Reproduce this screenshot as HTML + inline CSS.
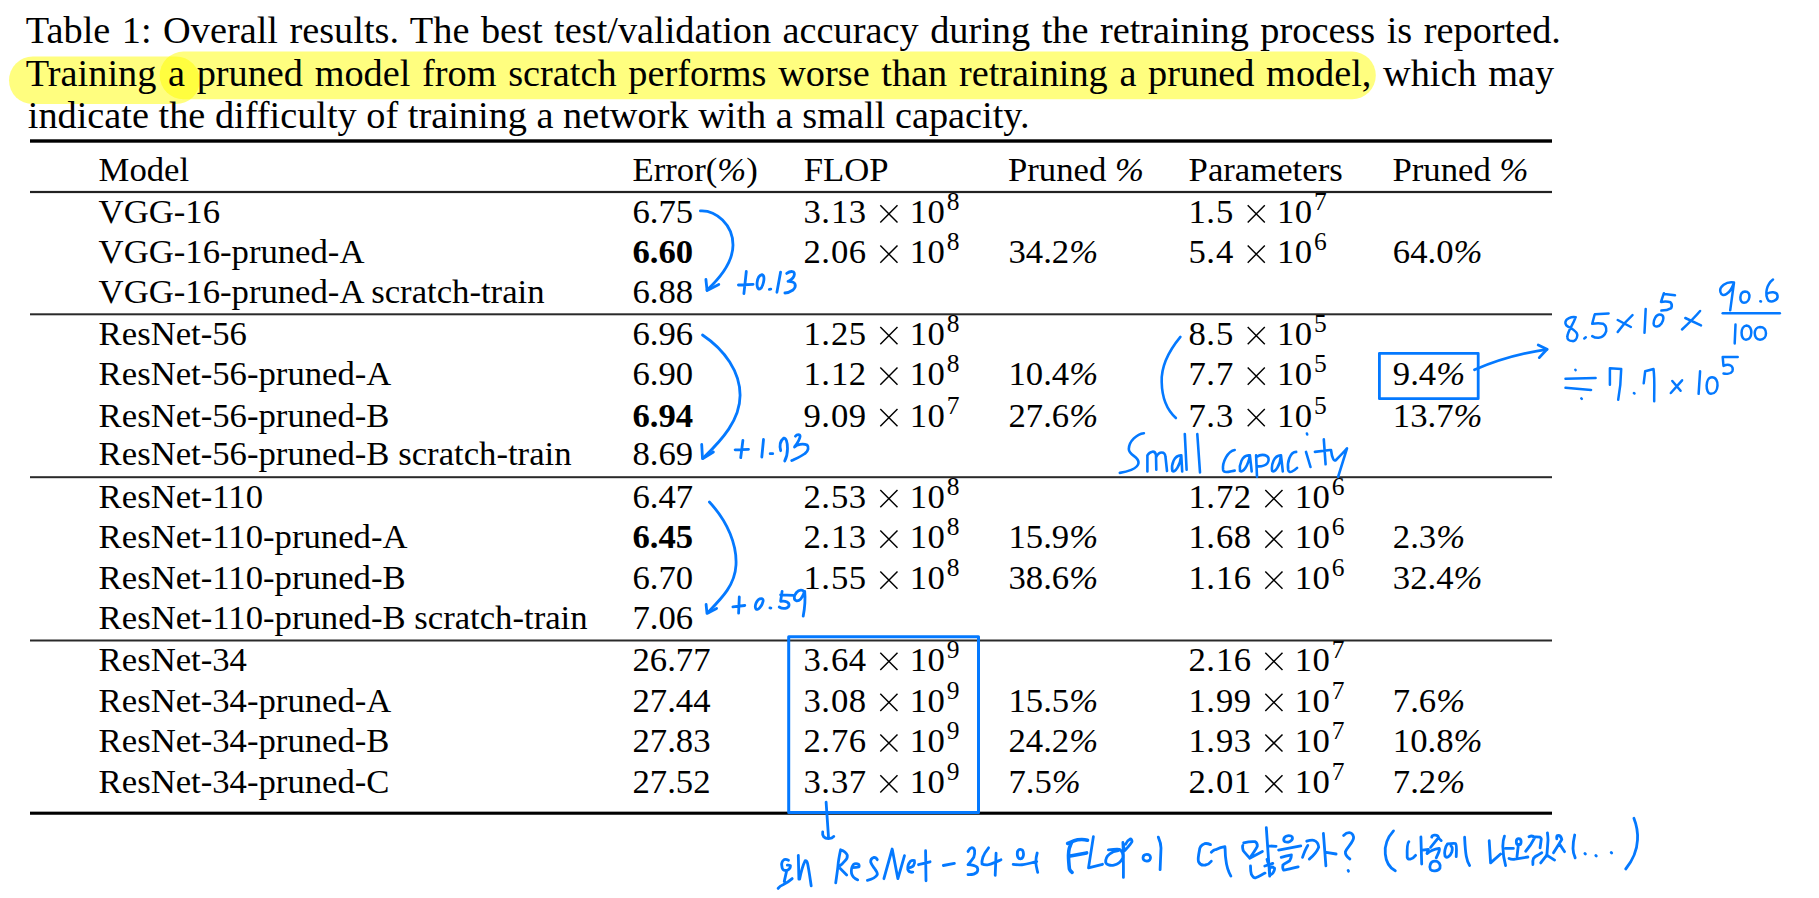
<!DOCTYPE html>
<html><head><meta charset="utf-8"><style>
html,body{margin:0;padding:0;background:#fff;}
svg{display:block;}
text{font-family:"Liberation Serif",serif;fill:#000;}
</style></head><body>
<svg width="1819" height="898" viewBox="0 0 1819 898">
<rect width="1819" height="898" fill="#fff"/>
<g stroke="#fffd00" stroke-linecap="round" fill="none">
<line x1="32.8" y1="80.3" x2="176" y2="80.3" stroke-width="47.6" stroke-opacity="0.5"/>
<line x1="183.5" y1="75.4" x2="1352" y2="75.4" stroke-width="47.6" stroke-opacity="0.5"/>
</g>
<rect x="30" y="139.30" width="1522" height="3.4" fill="#000"/>
<rect x="30" y="190.90" width="1522" height="2.2" fill="#222"/>
<rect x="30" y="313.30" width="1522" height="2.0" fill="#2a2a2a"/>
<rect x="30" y="476.20" width="1522" height="2.0" fill="#2a2a2a"/>
<rect x="30" y="639.50" width="1522" height="2.0" fill="#2a2a2a"/>
<rect x="30" y="811.65" width="1522" height="3.1" fill="#000"/>
<text x="25.8" y="42.9" font-size="38.3" word-spacing="1.94">Table 1: Overall results. The best test/validation accuracy during the retraining process is reported.</text>
<text x="25.8" y="85.8" font-size="38.3" word-spacing="2.09">Training a pruned model from scratch performs worse than retraining a pruned model, which may</text>
<text x="27.8" y="127.9" font-size="38.3">indicate the difficulty of training a network with a small capacity.</text>
<text x="98.6" y="180.9" font-size="34.7">Model</text>
<text x="632.5" y="180.9" font-size="34.7">Error(<tspan font-style="italic">%</tspan>)</text>
<text x="803.7" y="180.9" font-size="34.7">FLOP</text>
<text x="1008.0" y="180.9" font-size="34.7">Pruned <tspan font-style="italic">%</tspan></text>
<text x="1188.6" y="180.9" font-size="34.7">Parameters</text>
<text x="1392.5" y="180.9" font-size="34.7">Pruned <tspan font-style="italic">%</tspan></text>
<text x="98.6" y="222.9" font-size="34.7">VGG-16</text>
<text x="632.5" y="222.9" font-size="34.7">6.75</text>
<text x="803.6 821.2 831.1 848.7" y="222.9" font-size="34.7">3.13</text>
<path d="M880.3 205.2L897.5 222.4M897.5 205.2L880.3 222.4" stroke="#000" stroke-width="1.45"/>
<text x="909.7 927.4" y="222.9" font-size="34.7">10</text>
<text x="946.8" y="210.0" font-size="25.5">8</text>
<text x="1188.6 1206.2 1216.1" y="222.9" font-size="34.7">1.5</text>
<path d="M1247.7 205.2L1264.8 222.4M1264.8 205.2L1247.7 222.4" stroke="#000" stroke-width="1.45"/>
<text x="1277.0 1294.7" y="222.9" font-size="34.7">10</text>
<text x="1314.1" y="210.0" font-size="25.5">7</text>
<text x="98.6" y="263.2" font-size="34.7">VGG-16-pruned-A</text>
<text x="632.5" y="263.2" font-size="34.7" font-weight="bold">6.60</text>
<text x="803.6 821.2 831.1 848.7" y="263.2" font-size="34.7">2.06</text>
<path d="M880.3 245.5L897.5 262.7M897.5 245.5L880.3 262.7" stroke="#000" stroke-width="1.45"/>
<text x="909.7 927.4" y="263.2" font-size="34.7">10</text>
<text x="946.8" y="250.3" font-size="25.5">8</text>
<text x="1008.5" y="263.2" font-size="34.7">34.2<tspan font-style="italic">%</tspan></text>
<text x="1188.6 1206.2 1216.1" y="263.2" font-size="34.7">5.4</text>
<path d="M1247.7 245.5L1264.8 262.7M1264.8 245.5L1247.7 262.7" stroke="#000" stroke-width="1.45"/>
<text x="1277.0 1294.7" y="263.2" font-size="34.7">10</text>
<text x="1314.1" y="250.3" font-size="25.5">6</text>
<text x="1392.8" y="263.2" font-size="34.7">64.0<tspan font-style="italic">%</tspan></text>
<text x="98.6" y="302.8" font-size="34.7">VGG-16-pruned-A scratch-train</text>
<text x="632.5" y="302.8" font-size="34.7">6.88</text>
<text x="98.6" y="344.7" font-size="34.7">ResNet-56</text>
<text x="632.5" y="344.7" font-size="34.7">6.96</text>
<text x="803.6 821.2 831.1 848.7" y="344.7" font-size="34.7">1.25</text>
<path d="M880.3 327.0L897.5 344.2M897.5 327.0L880.3 344.2" stroke="#000" stroke-width="1.45"/>
<text x="909.7 927.4" y="344.7" font-size="34.7">10</text>
<text x="946.8" y="331.8" font-size="25.5">8</text>
<text x="1188.6 1206.2 1216.1" y="344.7" font-size="34.7">8.5</text>
<path d="M1247.7 327.0L1264.8 344.2M1264.8 327.0L1247.7 344.2" stroke="#000" stroke-width="1.45"/>
<text x="1277.0 1294.7" y="344.7" font-size="34.7">10</text>
<text x="1314.1" y="331.8" font-size="25.5">5</text>
<text x="98.6" y="385.3" font-size="34.7">ResNet-56-pruned-A</text>
<text x="632.5" y="385.3" font-size="34.7">6.90</text>
<text x="803.6 821.2 831.1 848.7" y="385.3" font-size="34.7">1.12</text>
<path d="M880.3 367.6L897.5 384.8M897.5 367.6L880.3 384.8" stroke="#000" stroke-width="1.45"/>
<text x="909.7 927.4" y="385.3" font-size="34.7">10</text>
<text x="946.8" y="372.4" font-size="25.5">8</text>
<text x="1008.5" y="385.3" font-size="34.7">10.4<tspan font-style="italic">%</tspan></text>
<text x="1188.6 1206.2 1216.1" y="385.3" font-size="34.7">7.7</text>
<path d="M1247.7 367.6L1264.8 384.8M1264.8 367.6L1247.7 384.8" stroke="#000" stroke-width="1.45"/>
<text x="1277.0 1294.7" y="385.3" font-size="34.7">10</text>
<text x="1314.1" y="372.4" font-size="25.5">5</text>
<text x="1392.8" y="385.3" font-size="34.7">9.4<tspan font-style="italic">%</tspan></text>
<text x="98.6" y="426.8" font-size="34.7">ResNet-56-pruned-B</text>
<text x="632.5" y="426.8" font-size="34.7" font-weight="bold">6.94</text>
<text x="803.6 821.2 831.1 848.7" y="426.8" font-size="34.7">9.09</text>
<path d="M880.3 409.1L897.5 426.3M897.5 409.1L880.3 426.3" stroke="#000" stroke-width="1.45"/>
<text x="909.7 927.4" y="426.8" font-size="34.7">10</text>
<text x="946.8" y="413.9" font-size="25.5">7</text>
<text x="1008.5" y="426.8" font-size="34.7">27.6<tspan font-style="italic">%</tspan></text>
<text x="1188.6 1206.2 1216.1" y="426.8" font-size="34.7">7.3</text>
<path d="M1247.7 409.1L1264.8 426.3M1264.8 409.1L1247.7 426.3" stroke="#000" stroke-width="1.45"/>
<text x="1277.0 1294.7" y="426.8" font-size="34.7">10</text>
<text x="1314.1" y="413.9" font-size="25.5">5</text>
<text x="1392.8" y="426.8" font-size="34.7">13.7<tspan font-style="italic">%</tspan></text>
<text x="98.6" y="465.4" font-size="34.7">ResNet-56-pruned-B scratch-train</text>
<text x="632.5" y="465.4" font-size="34.7">8.69</text>
<text x="98.6" y="507.7" font-size="34.7">ResNet-110</text>
<text x="632.5" y="507.7" font-size="34.7">6.47</text>
<text x="803.6 821.2 831.1 848.7" y="507.7" font-size="34.7">2.53</text>
<path d="M880.3 490.0L897.5 507.2M897.5 490.0L880.3 507.2" stroke="#000" stroke-width="1.45"/>
<text x="909.7 927.4" y="507.7" font-size="34.7">10</text>
<text x="946.8" y="494.8" font-size="25.5">8</text>
<text x="1188.6 1206.2 1216.1 1233.7" y="507.7" font-size="34.7">1.72</text>
<path d="M1265.3 490.0L1282.5 507.2M1282.5 490.0L1265.3 507.2" stroke="#000" stroke-width="1.45"/>
<text x="1294.7 1312.4" y="507.7" font-size="34.7">10</text>
<text x="1331.8" y="494.8" font-size="25.5">6</text>
<text x="98.6" y="548.3" font-size="34.7">ResNet-110-pruned-A</text>
<text x="632.5" y="548.3" font-size="34.7" font-weight="bold">6.45</text>
<text x="803.6 821.2 831.1 848.7" y="548.3" font-size="34.7">2.13</text>
<path d="M880.3 530.6L897.5 547.8M897.5 530.6L880.3 547.8" stroke="#000" stroke-width="1.45"/>
<text x="909.7 927.4" y="548.3" font-size="34.7">10</text>
<text x="946.8" y="535.4" font-size="25.5">8</text>
<text x="1008.5" y="548.3" font-size="34.7">15.9<tspan font-style="italic">%</tspan></text>
<text x="1188.6 1206.2 1216.1 1233.7" y="548.3" font-size="34.7">1.68</text>
<path d="M1265.3 530.6L1282.5 547.8M1282.5 530.6L1265.3 547.8" stroke="#000" stroke-width="1.45"/>
<text x="1294.7 1312.4" y="548.3" font-size="34.7">10</text>
<text x="1331.8" y="535.4" font-size="25.5">6</text>
<text x="1392.8" y="548.3" font-size="34.7">2.3<tspan font-style="italic">%</tspan></text>
<text x="98.6" y="589.2" font-size="34.7">ResNet-110-pruned-B</text>
<text x="632.5" y="589.2" font-size="34.7">6.70</text>
<text x="803.6 821.2 831.1 848.7" y="589.2" font-size="34.7">1.55</text>
<path d="M880.3 571.5L897.5 588.7M897.5 571.5L880.3 588.7" stroke="#000" stroke-width="1.45"/>
<text x="909.7 927.4" y="589.2" font-size="34.7">10</text>
<text x="946.8" y="576.3" font-size="25.5">8</text>
<text x="1008.5" y="589.2" font-size="34.7">38.6<tspan font-style="italic">%</tspan></text>
<text x="1188.6 1206.2 1216.1 1233.7" y="589.2" font-size="34.7">1.16</text>
<path d="M1265.3 571.5L1282.5 588.7M1282.5 571.5L1265.3 588.7" stroke="#000" stroke-width="1.45"/>
<text x="1294.7 1312.4" y="589.2" font-size="34.7">10</text>
<text x="1331.8" y="576.3" font-size="25.5">6</text>
<text x="1392.8" y="589.2" font-size="34.7">32.4<tspan font-style="italic">%</tspan></text>
<text x="98.6" y="628.8" font-size="34.7">ResNet-110-pruned-B scratch-train</text>
<text x="632.5" y="628.8" font-size="34.7">7.06</text>
<text x="98.6" y="670.5" font-size="34.7">ResNet-34</text>
<text x="632.5" y="670.5" font-size="34.7">26.77</text>
<text x="803.6 821.2 831.1 848.7" y="670.5" font-size="34.7">3.64</text>
<path d="M880.3 652.8L897.5 670.0M897.5 652.8L880.3 670.0" stroke="#000" stroke-width="1.45"/>
<text x="909.7 927.4" y="670.5" font-size="34.7">10</text>
<text x="946.8" y="657.6" font-size="25.5">9</text>
<text x="1188.6 1206.2 1216.1 1233.7" y="670.5" font-size="34.7">2.16</text>
<path d="M1265.3 652.8L1282.5 670.0M1282.5 652.8L1265.3 670.0" stroke="#000" stroke-width="1.45"/>
<text x="1294.7 1312.4" y="670.5" font-size="34.7">10</text>
<text x="1331.8" y="657.6" font-size="25.5">7</text>
<text x="98.6" y="711.5" font-size="34.7">ResNet-34-pruned-A</text>
<text x="632.5" y="711.5" font-size="34.7">27.44</text>
<text x="803.6 821.2 831.1 848.7" y="711.5" font-size="34.7">3.08</text>
<path d="M880.3 693.8L897.5 711.0M897.5 693.8L880.3 711.0" stroke="#000" stroke-width="1.45"/>
<text x="909.7 927.4" y="711.5" font-size="34.7">10</text>
<text x="946.8" y="698.6" font-size="25.5">9</text>
<text x="1008.5" y="711.5" font-size="34.7">15.5<tspan font-style="italic">%</tspan></text>
<text x="1188.6 1206.2 1216.1 1233.7" y="711.5" font-size="34.7">1.99</text>
<path d="M1265.3 693.8L1282.5 711.0M1282.5 693.8L1265.3 711.0" stroke="#000" stroke-width="1.45"/>
<text x="1294.7 1312.4" y="711.5" font-size="34.7">10</text>
<text x="1331.8" y="698.6" font-size="25.5">7</text>
<text x="1392.8" y="711.5" font-size="34.7">7.6<tspan font-style="italic">%</tspan></text>
<text x="98.6" y="752.1" font-size="34.7">ResNet-34-pruned-B</text>
<text x="632.5" y="752.1" font-size="34.7">27.83</text>
<text x="803.6 821.2 831.1 848.7" y="752.1" font-size="34.7">2.76</text>
<path d="M880.3 734.4L897.5 751.6M897.5 734.4L880.3 751.6" stroke="#000" stroke-width="1.45"/>
<text x="909.7 927.4" y="752.1" font-size="34.7">10</text>
<text x="946.8" y="739.2" font-size="25.5">9</text>
<text x="1008.5" y="752.1" font-size="34.7">24.2<tspan font-style="italic">%</tspan></text>
<text x="1188.6 1206.2 1216.1 1233.7" y="752.1" font-size="34.7">1.93</text>
<path d="M1265.3 734.4L1282.5 751.6M1282.5 734.4L1265.3 751.6" stroke="#000" stroke-width="1.45"/>
<text x="1294.7 1312.4" y="752.1" font-size="34.7">10</text>
<text x="1331.8" y="739.2" font-size="25.5">7</text>
<text x="1392.8" y="752.1" font-size="34.7">10.8<tspan font-style="italic">%</tspan></text>
<text x="98.6" y="792.9" font-size="34.7">ResNet-34-pruned-C</text>
<text x="632.5" y="792.9" font-size="34.7">27.52</text>
<text x="803.6 821.2 831.1 848.7" y="792.9" font-size="34.7">3.37</text>
<path d="M880.3 775.2L897.5 792.4M897.5 775.2L880.3 792.4" stroke="#000" stroke-width="1.45"/>
<text x="909.7 927.4" y="792.9" font-size="34.7">10</text>
<text x="946.8" y="780.0" font-size="25.5">9</text>
<text x="1008.5" y="792.9" font-size="34.7">7.5<tspan font-style="italic">%</tspan></text>
<text x="1188.6 1206.2 1216.1 1233.7" y="792.9" font-size="34.7">2.01</text>
<path d="M1265.3 775.2L1282.5 792.4M1282.5 775.2L1265.3 792.4" stroke="#000" stroke-width="1.45"/>
<text x="1294.7 1312.4" y="792.9" font-size="34.7">10</text>
<text x="1331.8" y="780.0" font-size="25.5">7</text>
<text x="1392.8" y="792.9" font-size="34.7">7.2<tspan font-style="italic">%</tspan></text>
<g fill="none" stroke="#0479ff" stroke-linecap="round" stroke-linejoin="round">
<path d="M700.4 210.9 C716 210 733 225 733 245 C733 262 720 278 707.1 290" stroke-width="2.8"/>
<path d="M705.9 279.5 L707.1 290.5 L718.8 284.4" stroke-width="2.8"/>
<path d="M738.4 285 L753.1 284.4 M746.3 271.5 L743.9 293.6" stroke-width="2.8"/>
<path d="M762 274.6 C756 276 756 289 759 289 C763 289 766 276 762 274.6Z" stroke-width="2.8"/>
<path d="M769.3 289.3 L770.8 289.2" stroke-width="2.8"/>
<path d="M780.6 272.1 L776.9 292.3" stroke-width="2.8"/>
<path d="M786.7 273.4 C790 271 796 270 794 276 C793 279 789 281 788 281.3 C796 281 797 286 793 290 C790 292 786 293 784.9 293" stroke-width="2.8"/>
<path d="M702.5 335 C725 350 740 372 740.1 395.2 C740 420 722 440 703.4 457.8" stroke-width="2.8"/>
<path d="M701.7 444.5 L702.5 458.7 L713.4 452" stroke-width="2.8"/>
<path d="M735.1 449.8 L748.5 449.3 M742.9 440.4 L740.7 457.7" stroke-width="2.8"/>
<path d="M763.5 439.5 L761.8 457" stroke-width="2.8"/>
<path d="M770.2 453.7 L772.7 453.7" stroke-width="2.8"/>
<path d="M780.7 450.7 C779.5 446 780 441 783.7 438.1 C786 437.5 787.5 442 787.5 448.4 C787.5 453 786.5 457.5 784.7 461" stroke-width="2.8"/>
<path d="M795.4 436.2 C797 434 800 434 800.1 436.2 C800 439.5 797 443.5 794.5 447 C797 444.5 803 443 807.1 445.1 C809 447 808.5 451 805 453.5 C801 456.5 796 458.5 791.7 460.5" stroke-width="2.8"/>
<path d="M709.4 502 C728 522 737 545 736 565 C735 585 722 598 707.8 612.6" stroke-width="2.8"/>
<path d="M706.1 604.5 L707 613.4 L716.6 608.5" stroke-width="2.8"/>
<path d="M732.9 606.8 L744.8 605.5 M739.3 596.9 L738.6 613.2" stroke-width="2.8"/>
<path d="M761.2 598.6 C757 598.5 754 606 756 609 C758 611 762 606 763 601.5 C763.5 599.5 762.5 598.5 761.2 598.6Z" stroke-width="2.8"/>
<path d="M769.9 607.9 L770.9 608.1" stroke-width="2.8"/>
<path d="M782.1 591.4 L780.6 601.3 M780.6 594.9 L793.3 595.4 M780.8 601.3 C786 600.5 789.5 602.5 789 605.5 C788.5 608.5 783 609.5 779.2 607" stroke-width="2.8"/>
<path d="M804.2 592.4 C803 589 799 589.5 796.5 592.5 C793.5 596 793.5 600 796.7 600.8 C799.5 601 802.5 597 804.2 592.4 M804.7 591.4 C805.5 600 804.8 608 803.2 616.2" stroke-width="2.8"/>
<path d="M1180.4 336.9 C1168 352 1161 366 1161.7 382 C1162 398 1167 410 1175.9 418" stroke-width="2.6"/>
<path d="M1143.9 433.2 C1137 434 1129 441 1128.8 449 C1129 456 1139 456 1138.5 463 C1138 469 1126 472 1119.8 472.9" stroke-width="2.6"/>
<path d="M1147.4 471.5 L1147.4 455.4 C1150 451 1155 450 1156 455 L1156.3 469.7 M1156.3 457 C1159 451 1165 451 1165.5 457 L1167 471" stroke-width="2.6"/>
<path d="M1181.3 455.4 C1174 455 1171 465 1172.4 471 C1175 473 1180 466 1181.3 455.4 L1182.2 471.5" stroke-width="2.6"/>
<path d="M1184.8 434 L1186.6 469.7" stroke-width="2.6"/>
<path d="M1197.3 434 L1200 472.4" stroke-width="2.6"/>
<path d="M1234.7 450 C1228 451 1222 462 1223.1 470 C1224 474 1231 471 1234.7 470.6" stroke-width="2.6"/>
<path d="M1249 455.4 C1242 455 1239 465 1240 471 C1243 473 1248 466 1249.9 455.4 L1251.7 471.5" stroke-width="2.6"/>
<path d="M1256.1 455.4 L1257 476.8 M1256.5 457 C1262 453 1269 455 1268.6 460 C1268 466 1260 467 1256.5 466" stroke-width="2.6"/>
<path d="M1281 455.4 C1274 455 1271 465 1272.2 471 C1275 473 1280 466 1281 455.4 L1282.8 471.5" stroke-width="2.6"/>
<path d="M1296.2 451.9 C1290 452 1287 462 1288.2 470 C1289 474 1294 471 1297.1 467.9" stroke-width="2.6"/>
<path d="M1306 451.9 L1310.5 467 M1306.9 433.5 L1307.2 434.5" stroke-width="2.6"/>
<path d="M1323.8 439.4 L1325.6 464.3 M1314.9 451.9 L1330 450" stroke-width="2.6"/>
<path d="M1331 450 C1332 458 1334 462 1336 460 C1340 456 1344 452 1347 448.3 L1338.1 476.8" stroke-width="2.6"/>
<rect x="1379.4" y="353.3" width="98.8" height="45.4" stroke-width="2.8"/>
<path d="M1474.5 369.7 C1490 363 1515 354 1547 349.3" stroke-width="2.8"/>
<path d="M1538.2 345 L1547 349.3 L1539.3 357.6" stroke-width="2.8"/>
<path d="M1575.7 317.2 C1571 316.5 1566 318.5 1565.4 322.1 C1565 325 1568 327 1570.7 327.9 C1574 330 1577.5 332 1577.3 335.5 C1577 339.5 1574.5 341.5 1572.4 341.1 C1569 341 1567 339.5 1567.4 336.5 C1567.5 331 1573 325 1575.7 317.2" stroke-width="2.5"/>
<path d="M1584.3 338.5 L1585.8 337.3" stroke-width="2.5"/>
<path d="M1595 314.3 L1608.6 313.4 M1594.6 314.7 L1592.2 323.7 C1596 323.3 1600 323.2 1602.9 323.7 C1605.5 325 1606.5 328 1606.2 331.2 C1605 335 1602 337.5 1598.7 337.8 C1596 338 1593.5 337 1592.2 336.1" stroke-width="2.5"/>
<path d="M1617.7 320 L1630.9 327 M1632.5 315.1 C1627 320 1622 326 1617.7 332" stroke-width="2.5"/>
<path d="M1645.7 308.9 L1644.5 332.8" stroke-width="2.5"/>
<path d="M1659.5 314.6 C1656 314.6 1653.6 320 1653.6 323.5 C1653.7 325.8 1655 326.6 1657 326.5 C1660.5 326.2 1663.4 321.5 1663.4 318 C1663.3 315.8 1661.8 314.6 1659.5 314.6Z" stroke-width="2.5"/>
<path d="M1664.3 294.1 L1675 295.3 M1663.9 293.2 L1661 301.9 C1664 301.5 1668 301.5 1670.5 302.3 C1672 304 1672 306.5 1671.3 308.1 C1668 310 1664 310.5 1661.4 310.6" stroke-width="2.5"/>
<path d="M1682 329.5 C1689 323 1695 317 1700.1 311 M1685.3 318 L1701 325.4" stroke-width="2.5"/>
<path d="M1722.7 313.3 L1779.8 313.3" stroke-width="2.5"/>
<path d="M1734 282.5 C1726 281 1719 287 1720.4 292 C1722 298 1730 295 1734 282.5 L1730.2 310.3" stroke-width="2.5"/>
<path d="M1745 291.5 C1739 292 1739 302.8 1744 302.8 C1750 302.8 1752 291.5 1745 291.5Z" stroke-width="2.5"/>
<path d="M1760.3 301.3 L1761 301.5" stroke-width="2.5"/>
<path d="M1773 279.5 C1767 284 1764 294 1768.5 300.6 C1772 303 1778 300 1777.6 296 C1777 291 1770 292 1767 293.8" stroke-width="2.5"/>
<path d="M1735.5 324.6 L1734.7 343.4" stroke-width="2.5"/>
<path d="M1746.5 325.4 C1740 326 1740 339.7 1746 339.7 C1753 339.7 1753 325.4 1746.5 325.4Z" stroke-width="2.5"/>
<path d="M1760 326.9 C1753 327 1753 339.7 1760 339.7 C1768 339.7 1768 326.9 1760 326.9Z" stroke-width="2.5"/>
<path d="M1575.3 369.7 L1575.6 370.2" stroke-width="2.5"/>
<path d="M1565.5 378.8 L1595.6 378 M1565.5 387.8 L1591.1 390" stroke-width="2.5"/>
<path d="M1581.3 398.3 L1581.8 398.8" stroke-width="2.5"/>
<path d="M1609.9 384.8 L1609.9 368.2 L1621.2 369 C1621 380 1620 390 1618.2 399.8" stroke-width="2.5"/>
<path d="M1633.9 393 L1634.5 393.5" stroke-width="2.5"/>
<path d="M1643.7 383.3 L1645.2 371.2 L1653.5 369 C1655 380 1654 392 1654.2 401.3" stroke-width="2.5"/>
<path d="M1670.8 393 L1682.1 380.3 M1672.3 381 L1680.6 390.8" stroke-width="2.5"/>
<path d="M1700.1 371.2 L1698.6 393.8" stroke-width="2.5"/>
<path d="M1712 377.3 C1705 377.3 1705 393.8 1711 393.8 C1719 393.8 1720 377.3 1712 377.3Z" stroke-width="2.5"/>
<path d="M1737.7 357 L1722.7 357 L1723.5 366 C1729 363 1734 366 1732.4 371.2 C1731 374 1726 374 1723.5 373.5" stroke-width="2.5"/>
<rect x="788.7" y="636.7" width="189.8" height="175.8" stroke-width="3.0"/>
<path d="M826.1 802.2 L828.6 838.6 M822.7 831.9 C822 836 824 838.5 828.6 838.6 C831 838.5 833 837.5 833.8 836.4" stroke-width="2.8"/>
<path d="M788.5 860.2 C787 859.5 785.5 859.3 784.2 859.6 C782 861 781.5 864 781.8 865.7 C782 868 782.5 869.5 783.6 870 C785 870.8 786.5 870.5 787.9 870 C789.5 869 790.5 867 790.4 865.7 C789.5 865 788.5 865 787.3 865.1 M786.7 870.6 L784.2 881.6 M778.1 888.4 C779.5 886.5 781 885.5 783 884.7 C786.5 883 789.5 881 792.2 878.6" stroke-width="2.8"/>
<path d="M798.3 855.3 L798.9 879.2 M799.6 879.2 C801 872 803 865 805.1 860.8 C806 860.3 807 861 807.5 863.3 C809 870 810 878 811.2 885.9" stroke-width="2.8"/>
<path d="M840.6 849.8 C839.5 855 838.5 860 838.1 864.5 C837.5 871 836.5 877 835.7 882.9 M840.6 849.8 C843 850.5 846 852 847.3 855.3 C847.5 857.5 846.5 859.5 844.9 860.8 C843.5 862.5 841.5 864.5 840 865.7 M840 868.2 L846.7 874.9" stroke-width="2.8"/>
<path d="M852.2 867.6 C854.5 867.5 857 867.3 859 866.9 C859.5 865.5 859 864 857.7 863.9 C855.5 863.5 854 864 853.4 864.5 C851.5 867 851 870.5 851.6 873.7 C852.5 877 855 879 857.7 879.8" stroke-width="2.8"/>
<path d="M877.3 859.7 C876.5 858 875 857.2 874 857.3 C871.5 858 870.5 860 870.7 862.2 C871.5 865 873.5 867 874.8 868.8 C876.5 871 877.5 873 877.3 874.6 C875.5 878 871 879.5 867.4 880.4" stroke-width="2.8"/>
<path d="M883.9 878.7 L892.2 849 L897.9 878.7 L904.5 855.6" stroke-width="2.8"/>
<path d="M908.7 868 C911 867.5 913 866.5 913.6 865.5 C914.5 864 914.8 862 914.4 860.6 C913 860 911.5 860.5 910.3 861.4 C908.5 863.5 907.5 866.5 907.8 869.6 C908.5 871.5 910.5 872.5 912.8 872.1" stroke-width="2.8"/>
<path d="M925.6 850.7 L926 880.8 M918.5 864.7 L930.1 861.8" stroke-width="2.8"/>
<path d="M943.3 865.5 L954.4 863.4" stroke-width="2.8"/>
<path d="M968 851.5 C969 849.5 970 848 971.3 847.8 C973 847.5 974.5 848.8 974.6 850.7 C974.8 853 974.5 855.5 973.8 857.3 C972 860 970 862.5 968 864.7 C971 864.8 975 865.5 977.1 867.2 C978 869 977.8 871 977.1 872.1 C975 874 971.5 874.8 968 874.6" stroke-width="2.8"/>
<path d="M988.6 847.8 C986 851 984 854 982.9 857.3 C982 860 981.8 862 982 863.9 C984 865 986.5 865 988.6 864.7 C993 863.5 997 861.5 1001 859.7 M996.1 853.1 L995.2 875.4" stroke-width="2.8"/>
<path d="M1020.4 849.3 C1016.5 849.3 1016 858.8 1020.4 858.8 C1024.8 858.8 1024.3 849.3 1020.4 849.3Z M1013.2 864.3 C1017 865 1020 864.8 1023.1 864.7 C1028 864 1032 862.5 1036.7 861.6 M1037.2 853 C1036 857 1035.8 860 1035.8 862.5 C1036 866 1037 869.5 1037.7 872.4" stroke-width="2.8"/>
<path d="M1072.1 841.6 C1069.5 846 1068.5 851 1068.5 855.2 C1068.5 860 1069 865 1069.4 868.8 C1070 870.5 1071 871.5 1072.1 872.4 M1067.6 843.4 C1071 842 1074 840.5 1077.6 839.8 C1081 839.3 1085 839.5 1087.5 840.2 M1070.3 856.1 L1086.6 852.9" stroke-width="3.6"/>
<path d="M1093.4 836.6 L1088.5 867.9 L1102.5 864.3" stroke-width="2.8"/>
<path d="M1108.4 849.8 C1113 849.3 1117 849 1119.3 849.3 C1122 851 1123.5 854 1122.9 857.9 C1121 861.5 1117.5 864.5 1113.9 865.2 C1110 866 1106.5 864.5 1105.7 862.5 C1105.5 859 1107 856 1109.3 854.3 C1112 852 1115 851 1118.4 850.7" stroke-width="2.8"/>
<path d="M1122.9 842.5 C1123.5 855 1123.5 866 1123.4 877.4 M1122.9 842.5 C1123.5 846 1124 848.5 1124.7 850.7 C1127 848 1130.5 844.5 1132 841.6 C1132 840 1131 838.5 1130.2 838.9 C1128 840 1126.5 842 1125.6 844.3" stroke-width="2.8"/>
<path d="M1146.8 854.3 C1142 854.5 1141.5 861 1146.8 861.1 C1152 861 1151.5 854.2 1146.8 854.3Z" stroke-width="2.8"/>
<path d="M1158.3 837.1 C1160 841 1161 845 1161 848 L1160.1 869.7" stroke-width="2.8"/>
<path d="M1210.5 844.6 C1208 843.5 1206 843.3 1204.5 843.7 C1201 845 1199.5 848 1199.4 850.6 C1198.5 855 1198 860 1198.5 861.6 C1200 865 1203 865.5 1205.3 865 C1208 864.5 1210 863 1211.3 861.2" stroke-width="2.8"/>
<path d="M1211.3 852.3 C1213 850.5 1215 849.5 1215.6 849.7 C1219 848 1222 847 1224.9 846.7 C1225.5 851 1225 855 1225.8 859.1 C1226.5 866 1228 871 1230.9 876.1" stroke-width="2.8"/>
<path d="M1243.7 842.9 C1247 842 1251 841.3 1254.8 841.6 C1256.5 842.5 1257.5 844.5 1257.3 846.3 C1256 849.5 1253 853 1249.7 858.2 C1247 855 1244 852 1243.2 850.6 C1242.5 848 1242.5 846 1242.8 845.5 M1249.7 858.2 L1262.4 851.4" stroke-width="2.8"/>
<path d="M1266.3 827.6 L1269.7 876.1 M1267.5 845.9 L1276.1 846.3" stroke-width="2.8"/>
<path d="M1250.5 865.9 C1250.5 870 1251 873 1251.4 874.4 C1253 877.5 1255 878 1255.6 877.8 C1259 876.5 1262 874.5 1265 873.1 M1267 859.3 L1268 862.8 M1264.8 866 L1272.8 863.4 M1274 868 C1272 866 1268.5 867.5 1269.5 872 C1270 876 1272.5 875 1274 871 C1275 868.5 1274.5 867.5 1274 868" stroke-width="2.8"/>
<path d="M1287.5 835.8 C1283.5 836.3 1282.8 840.5 1285 841.8 C1288 843 1292.5 841 1292.5 838 C1292.5 836 1290 835.5 1287.5 835.8Z M1278.6 850.1 L1300.8 845.9" stroke-width="2.8"/>
<path d="M1281.2 857.4 C1285 856.5 1289 855 1291.4 854.8 C1291.5 857.5 1290.5 859.5 1289.7 860.8 C1287 862.5 1284.5 863.5 1282.9 865 C1282.5 867.5 1283 869.5 1283.7 870.2 C1288 869.5 1293 868 1298.2 866.8" stroke-width="2.8"/>
<path d="M1306.7 841.2 C1309 840.5 1311.5 840 1313.6 840.3 C1317 841.5 1318.5 844 1318.7 847.2 C1317 851.5 1313 856 1309.3 859.1 M1307.8 845.5 C1305.5 849 1304 853 1302.5 857.4" stroke-width="2.8"/>
<path d="M1323.4 833.5 L1325.9 865.9 M1326.3 852.3 L1336.1 854" stroke-width="2.8"/>
<path d="M1343.6 835.4 C1347 832 1352 831 1353.6 837 C1354 842 1347 847 1345.4 851.7 C1345 855 1347 857 1349.9 859 M1348.1 870.4 L1348.5 871.2" stroke-width="2.8"/>
<path d="M1393.5 830.9 C1387 838 1384.5 846 1385.3 854 C1386 862 1390 868 1395.3 870.8" stroke-width="2.8"/>
<path d="M1408.9 841.7 C1407 843 1407 850 1407.2 857.3 C1408 860 1412 860 1415.6 855.3 M1420.9 837 L1421.7 864 M1422.3 850.1 L1428.4 849.5 L1427 853.4" stroke-width="2.8"/>
<path d="M1431.7 837.2 C1432 835 1436 834.5 1437.9 836.1 C1438.4 837.5 1439 839 1441.2 840.6 M1437.9 838.4 L1430.6 847.3 M1427.3 853.4 C1430 851 1435 849 1439 848.4 C1440.5 849 1438 854 1436.2 857.9" stroke-width="2.8"/>
<path d="M1434.8 861.2 C1430 861.2 1429 867 1430.5 869.5 C1432 871.5 1438 871.5 1440 868 C1441 864 1438.5 861.2 1434.8 861.2Z" stroke-width="2.8"/>
<path d="M1447.5 843.9 C1445 847 1444 853 1445 856 C1446.5 858.5 1450 857 1451.8 852 C1452.5 849.5 1452.5 847 1451 846 M1447.5 843.9 C1450 843.5 1454 843 1455.5 843.5 C1457 845 1456.5 850 1456.2 856.7" stroke-width="2.8"/>
<path d="M1464.6 837.2 C1465 845 1465.5 852 1466.3 856.2 C1467 860 1468 863 1469.6 865.6" stroke-width="2.8"/>
<path d="M1489.2 840.6 L1490.6 862.9 L1500.6 854 M1504.5 836.1 C1503 840 1502.8 843 1502.8 846.2 C1503 853 1504 860 1505.6 865.6 M1505.6 848.4 L1513.4 848.4" stroke-width="2.8"/>
<path d="M1518.7 838.6 C1515.5 838.6 1515.5 844.8 1518.7 844.8 C1521.9 844.8 1521.9 838.6 1518.7 838.6Z M1518.4 844.5 L1517 856.7 M1509 858.4 C1511 859.5 1513 859.5 1515 859.2 L1527.9 857" stroke-width="2.8"/>
<path d="M1529 836.7 C1530.5 836 1533 835.5 1534.6 837.8 C1532 843 1529 847.5 1525.7 851.2 M1532.9 836.7 L1540.1 837.2 C1541 838 1541.5 839 1541.2 839.5 L1540.1 847.8 M1547.4 832.8 C1548 837 1548 841 1547.9 841.7 L1546.8 856.2" stroke-width="2.8"/>
<path d="M1532.9 864.5 C1532.5 861 1533 859.5 1533.5 858.4 C1535 856.5 1537 855.5 1537.9 855.1 L1541.8 852.8 M1540.7 862.9 L1546.8 855.1 L1554.6 860.1" stroke-width="2.8"/>
<path d="M1556.8 838.9 C1556.5 837 1557 835.8 1557.4 835.6 C1559 835.3 1561 835.5 1561.8 839.5 C1559 844 1556 849 1553.5 852.8 M1560.2 845 L1564.6 851.7" stroke-width="2.8"/>
<path d="M1574.7 835 C1573.5 840 1573 845 1573 848.4 C1573 852 1574 855 1575.2 857.9" stroke-width="2.8"/>
<path d="M1584.9 853.5 L1585.4 854 M1595.8 855.4 L1596.3 855.9 M1611.2 852.6 L1611.7 853.1" stroke-width="2.8"/>
<path d="M1633.9 818.2 C1637 826 1638 832 1637.5 840 C1637 850 1633 860 1625.7 869" stroke-width="2.8"/>
</g>
</svg>
</body></html>
